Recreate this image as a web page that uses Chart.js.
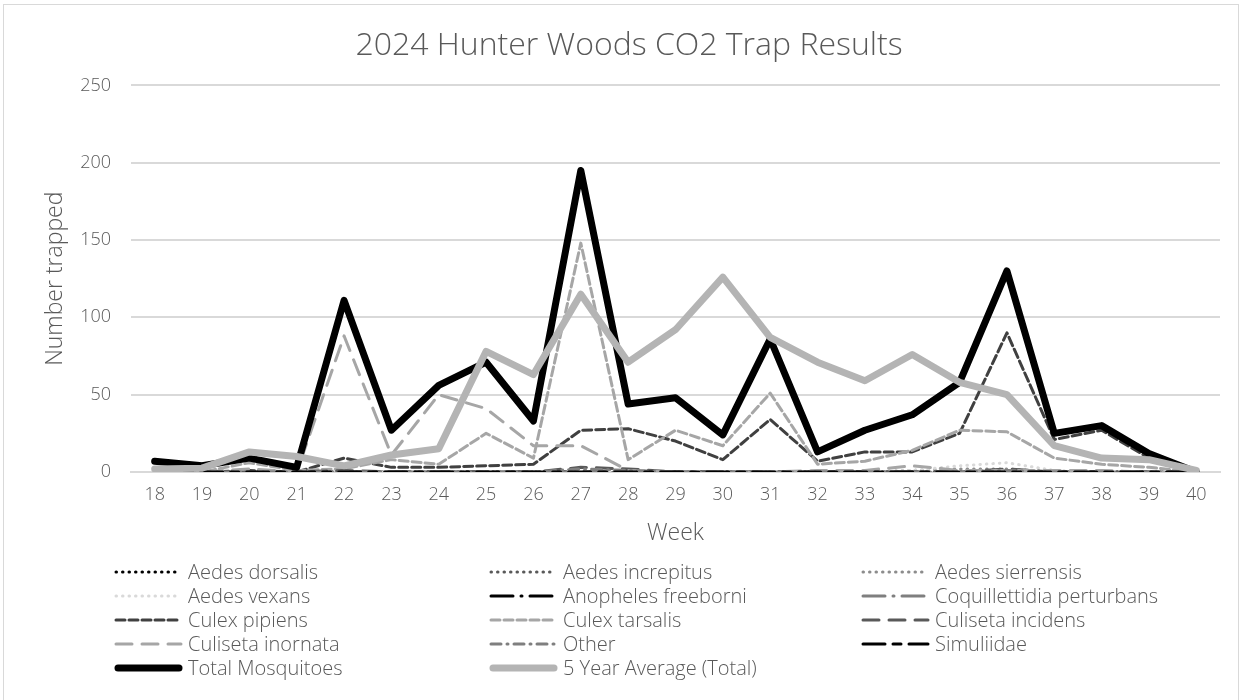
<!DOCTYPE html>
<html>
<head>
<meta charset="utf-8">
<script src="https://cdn.jsdelivr.net/npm/chart.js@4.4.1/dist/chart.umd.min.js"></script>
<style>
html,body{margin:0;padding:0;background:#fff;}
#wrap{position:relative;width:1243px;height:700px;overflow:hidden;}
#frame{position:absolute;left:3px;top:4px;width:1236px;height:710px;border:1px solid #d9d9d9;box-sizing:border-box;}
canvas{position:absolute;left:0;top:0;}
</style>
</head>
<body>
<div id="wrap"><div id="frame"></div><canvas id="c" width="1243" height="700"></canvas></div>
<script>
// ---- data ----
const weeks = ['18','19','20','21','22','23','24','25','26','27','28','29','30','31','32','33','34','35','36','37','38','39','40'];
const yTicks = [0, 50, 100, 150, 200, 250];

const aedesDorsalis      = [0,0,0,0,0,0,0,0,0,0,0,0,0,0,0,0,0,0,0,0,0,0,0];
const aedesIncrepitus    = [0,0,0,0,0,0,0,0,0,0,0,0,0,0,0,0,0,0,0,0,0,0,0];
const aedesSierrensis    = [0,0,0,0,0,0,0,0,0,0,0,0,0,0,0,0,1,2,2,0,0,0,0];
const aedesVexans        = [0,0,0,0,0,0,0,0,0,0,0,0,0,0,0,0,1,4,6,1,0,0,0];
const anophelesFreeborni = [0,0,0,0,0,0,0,0,0,0,0,0,0,0,0,0,0,0,0,0,0,0,0];
const coquillettidia     = [0,0,0,0,0,0,0,0,0,0,0,0,0,0,0,0,0,0,0,0,0,0,0];
const culexPipiens       = [0,0,1,0,9,3,3,4,5,27,28,20,8,34,7,13,13,25,90,21,27,9,0];
const culexTarsalis      = [0,0,6,1,2,8,5,25,9,148,8,27,17,51,5,7,14,27,26,9,5,3,0];
const culisetaIncidens   = [0,0,0,0,1,0,0,0,0,3,2,0,0,0,0,0,0,0,2,0,0,0,0];
const culisetaInornata   = [0,0,2,0,88,11,50,41,17,17,1,0,0,0,1,1,4,1,1,1,1,0,0];
const other              = [0,0,0,0,0,0,0,0,0,2,1,0,0,0,0,0,0,0,1,0,0,0,0];
const simuliidae         = [0,0,0,0,0,0,0,0,0,0,0,0,0,0,0,0,0,0,0,0,0,0,0];
const totalMosquitoes    = [7,4,9,3,111,27,56,71,33,195,44,48,24,86,13,27,37,58,130,25,30,12,0];
const fiveYearAverage    = [2,2.5,13,10,4,11,15,78,63,115,71,92,126,87,71,59,76,58,50,17,9,8,1];

// ---- styles ----
const FONT = "'Open Sans', Lato, sans-serif";
const TXT = '#595959';

function ds(label, data, color, width, dash, cap) {
  return { label, data, borderColor: color, backgroundColor: color, borderWidth: width,
    borderDash: dash, borderCapStyle: cap || 'butt', borderJoinStyle: 'round',
    pointRadius: 0, pointHoverRadius: 0, fill: false, tension: 0 };
}
const DOT = [0.5, 6];
const SYS = [9, 4];
const LONG = [16, 10];
const LGDD = [22, 8, 1, 8];
const DD = [10, 6, 1, 6];
const LDSD = [22, 8, 8, 8];

const datasets = [
  ds('Aedes dorsalis', aedesDorsalis, '#000000', 3, DOT, 'round'),
  ds('Aedes increpitus', aedesIncrepitus, '#595959', 3, DOT, 'round'),
  ds('Aedes sierrensis', aedesSierrensis, '#8c8c8c', 3, DOT, 'round'),
  ds('Aedes vexans', aedesVexans, '#d9d9d9', 3, DOT, 'round'),
  ds('Anopheles freeborni', anophelesFreeborni, '#000000', 3, LGDD, 'round'),
  ds('Coquillettidia perturbans', coquillettidia, '#7f7f7f', 3, LGDD, 'round'),
  ds('Culex pipiens', culexPipiens, '#404040', 3, SYS, 'round'),
  ds('Culex tarsalis', culexTarsalis, '#a6a6a6', 3, SYS, 'round'),
  ds('Culiseta incidens', culisetaIncidens, '#595959', 3, LONG, 'round'),
  ds('Culiseta inornata', culisetaInornata, '#a6a6a6', 3, LONG, 'round'),
  ds('Other', other, '#7f7f7f', 3, DD, 'round'),
  ds('Simuliidae', simuliidae, '#000000', 3, LDSD, 'round'),
  ds('Total Mosquitoes', totalMosquitoes, '#000000', 7, [], 'round'),
  ds('5 Year Average (Total)', fiveYearAverage, '#b4b4b4', 7, [], 'round')
];
datasets.forEach((d, i) => { d.order = datasets.length - i; });

const gridLegend = {
  id: 'gridLegend',
  afterDraw(chart) {
    const ctx = chart.ctx;
    const cols = [115, 490, 862];
    const rowY = [572, 596, 620, 644, 668];
    chart.data.datasets.forEach((d, i) => {
      const x = cols[i % 3], y = rowY[Math.floor(i / 3)];
      ctx.save();
      ctx.strokeStyle = d.borderColor;
      ctx.lineWidth = d.borderWidth;
      ctx.lineCap = d.borderCapStyle;
      ctx.setLineDash(d.borderDash || []);
      ctx.beginPath();
      const pad = d.borderWidth > 4 ? 3 : 1;
      ctx.moveTo(x + pad, y);
      ctx.lineTo(x + 67 - pad, y);
      ctx.stroke();
      ctx.restore();
      ctx.save();
      ctx.fillStyle = TXT;
      ctx.font = '300 20px ' + FONT;
      ctx.textBaseline = 'middle';
      ctx.fillText(d.label, x + 73, y + 1);
      ctx.restore();
    });
  }
};

new Chart(document.getElementById('c'), {
  type: 'line',
  data: { labels: weeks, datasets },
  options: {
    responsive: false,
    animation: false,
    layout: { padding: { left: 38, right: 23, top: 0, bottom: 150 } },
    plugins: {
      legend: { display: false },
      tooltip: { enabled: false },
      title: {
        display: true,
        text: '2024 Hunter Woods CO2 Trap Results',
        color: TXT,
        font: { family: FONT, size: 32, weight: '300', lineHeight: 1.2 },
        padding: { top: 27, bottom: 20 }
      }
    },
    scales: {
      x: {
        offset: true,
        grid: { display: false, drawTicks: false },
        border: { display: true, color: '#d9d9d9', width: 2 },
        ticks: { color: TXT, font: { family: FONT, size: 18, weight: '300' }, padding: 12, maxRotation: 0, autoSkip: false },
        title: { display: true, text: 'Week', color: TXT, font: { family: FONT, size: 23, weight: '300' }, padding: { top: 4, bottom: 3 } },
        afterFit: s => { s.height = 78; }
      },
      y: {
        min: 0, max: 250,
        afterBuildTicks: s => { s.ticks = yTicks.map(v => ({ value: v })); },
        grid: { color: '#d9d9d9', lineWidth: 2, drawTicks: false },
        border: { display: false },
        ticks: { color: TXT, font: { family: FONT, size: 18, weight: '300' }, padding: 20 },
        title: { display: true, text: 'Number trapped', color: TXT, font: { family: FONT, size: 23, weight: '300' }, padding: { top: 4, bottom: 4 } },
        afterFit: s => { s.width = 93; }
      }
    }
  },
  plugins: [gridLegend]
});
</script>
</body>
</html>
